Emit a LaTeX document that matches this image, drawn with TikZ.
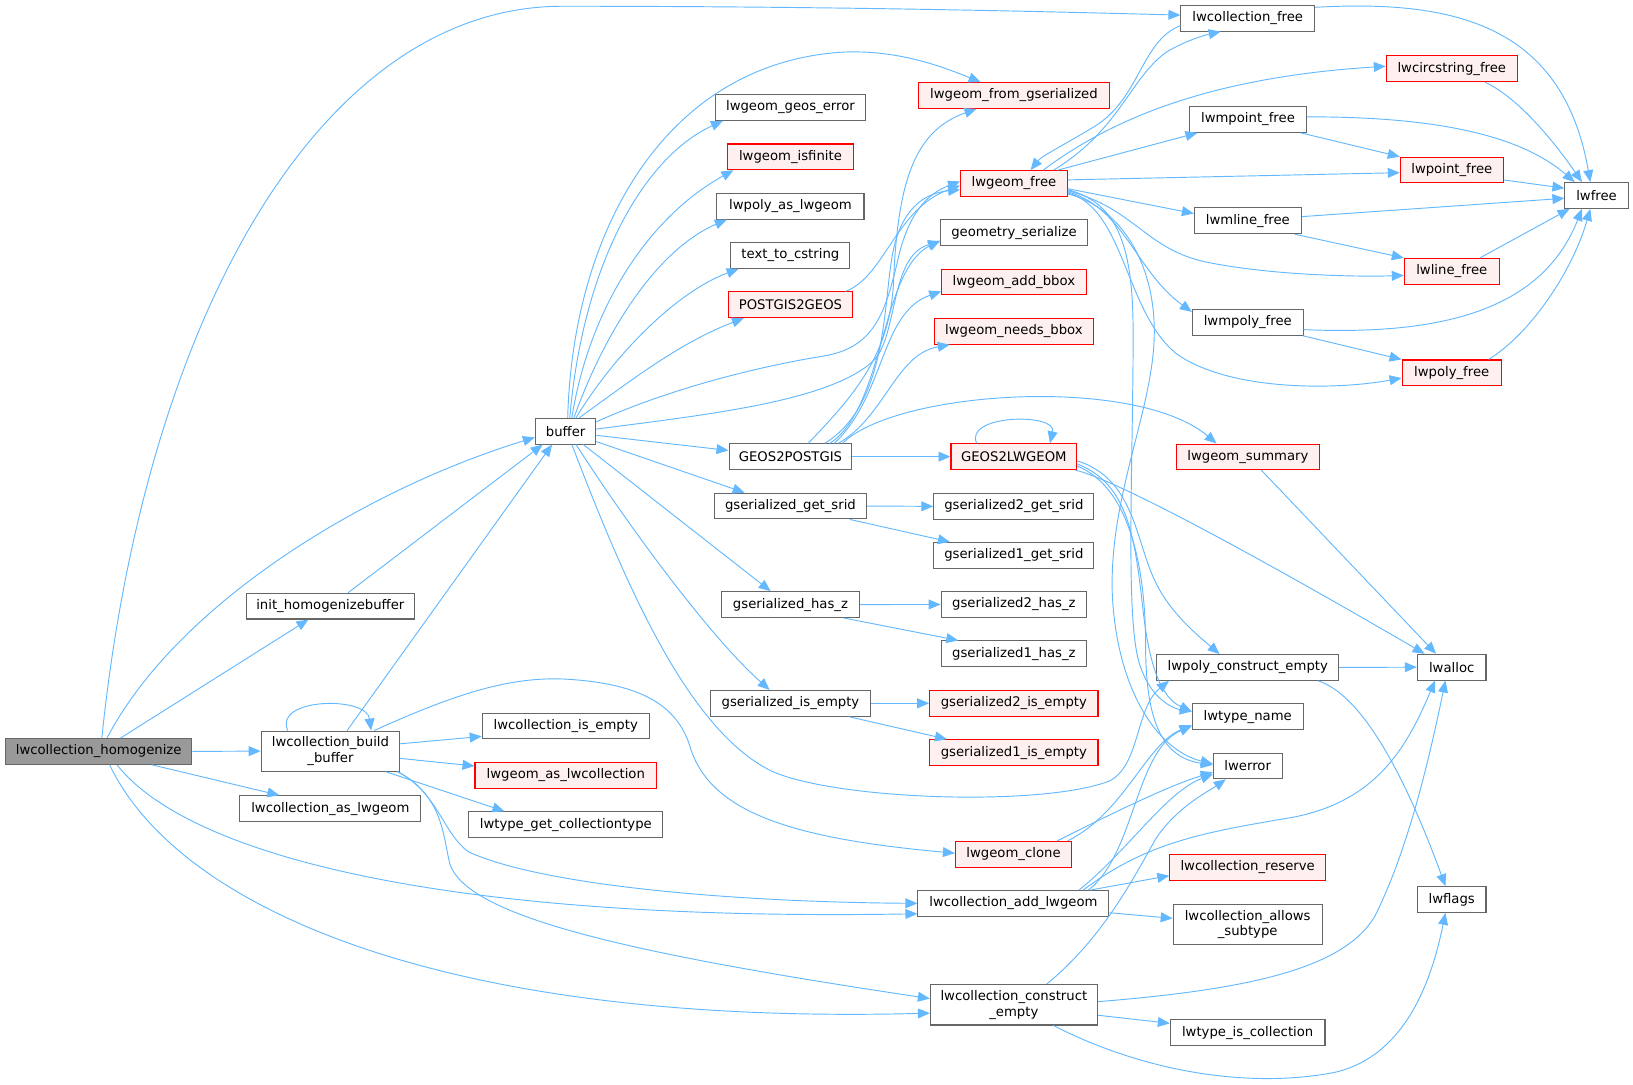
\documentclass[tikz,border=0pt]{standalone}
\usepackage{fontspec}
\setmainfont{DejaVu Sans}
\usetikzlibrary{arrows.meta,calc}
\definecolor{edgeblue}{HTML}{63B8FF}
\definecolor{bordergray}{HTML}{666666}
\definecolor{redfill}{HTML}{FFF0F0}
\definecolor{rootgray}{HTML}{999999}
\definecolor{redborder}{HTML}{FF0000}
\tikzset{
 fn/.style={draw=bordergray, fill=white, line width=1pt, minimum height=24.7pt, inner sep=0pt, font=\fontsize{12.7}{15}\selectfont, align=center},
 fnred/.style={fn, draw=redborder, fill=redfill},
 fnroot/.style={fn, fill=rootgray},
 calls/.style={draw=edgeblue, line width=0.9pt, -{Triangle[length=11.5pt,width=9.5pt]}},
}
\begin{document}
\begin{tikzpicture}[x=1pt,y=-1pt]
\useasboundingbox (0,0) rectangle (1568,1041);
% nodes
\node[fnroot, minimum width=179pt] (H) at (94.75,721.5) {lwcollection\_homogenize};
\node[fn, minimum width=58pt] (buffer) at (543.1,414) {buffer};
\node[fn, minimum width=161.2pt] (init) at (317.2,582) {init\_homogenizebuffer};
\node[fn, minimum width=133pt, minimum height=38.5pt] (B) at (317.3,721.2) {lwcollection\_build\\\_buffer};
\node[fn, minimum width=174pt] (asLW) at (317.2,776.4) {lwcollection\_as\_lwgeom};
\node[fn, minimum width=160.3pt] (isEmpty) at (543.2,697.1) {lwcollection\_is\_empty};
\node[fnred, minimum width=174.4pt] (asColl) at (543.3,744.5) {lwgeom\_as\_lwcollection};
\node[fn, minimum width=186pt] (getCT) at (543.3,791.8) {lwtype\_get\_collectiontype};
\node[fn, minimum width=128.4pt] (colFree) at (1198.1,17.5) {lwcollection\_free};
\node[fnred, minimum width=183.2pt] (fromGS) at (973.6,91.7) {lwgeom\_from\_gserialized};
\node[fn, minimum width=144.8pt] (geosErr) at (759,103.2) {lwgeom\_geos\_error};
\node[fnred, minimum width=120.5pt] (isfinite) at (759,150.6) {lwgeom\_isfinite};
\node[fn, minimum width=141.2pt] (polyAsLw) at (759,198) {lwpoly\_as\_lwgeom};
\node[fn, minimum width=114.3pt] (text2c) at (758.9,245.3) {text\_to\_cstring};
\node[fnred, minimum width=118.4pt] (P2G) at (759,292.6) {POSTGIS2GEOS};
\node[fnred, minimum width=102.4pt] (lwgFree) at (973.6,176.2) {lwgeom\_free};
\node[fn, minimum width=140.8pt] (geomSer) at (973.6,223.5) {geometry\_serialize};
\node[fnred, minimum width=138.6pt] (addBbox) at (973.5,270.8) {lwgeom\_add\_bbox};
\node[fnred, minimum width=152.3pt] (needsBbox) at (973.6,318.2) {lwgeom\_needs\_bbox};
\node[fn, minimum width=118pt] (G2P) at (759,438.5) {GEOS2POSTGIS};
\node[fnred, minimum width=120.7pt] (G2L) at (973.5,438.5) {GEOS2LWGEOM};
\node[fnred, minimum width=137.3pt] (summary) at (1198.2,438.7) {lwgeom\_summary};
\node[fn, minimum width=146.4pt] (getSrid) at (759,485.9) {gserialized\_get\_srid};
\node[fn, minimum width=153.8pt] (gs2srid) at (973.5,486.2) {gserialized2\_get\_srid};
\node[fn, minimum width=153.8pt] (gs1srid) at (973.5,533.2) {gserialized1\_get\_srid};
\node[fn, minimum width=132.2pt] (hasZ) at (759,580.5) {gserialized\_has\_z};
\node[fn, minimum width=139.8pt] (gs2hasz) at (973.5,580.4) {gserialized2\_has\_z};
\node[fn, minimum width=139.8pt] (gs1hasz) at (973.5,627.8) {gserialized1\_has\_z};
\node[fn, minimum width=154pt] (isEmptyGS) at (759,675.3) {gserialized\_is\_empty};
\node[fnred, minimum width=161.6pt] (gs2empty) at (973.5,675.3) {gserialized2\_is\_empty};
\node[fnred, minimum width=161.6pt] (gs1empty) at (973.5,722.6) {gserialized1\_is\_empty};
\node[fnred, minimum width=125.8pt] (circFree) at (1394,66.1) {lwcircstring\_free};
\node[fn, minimum width=112pt] (mpointFree) at (1198.3,114.7) {lwmpoint\_free};
\node[fnred, minimum width=98.9pt] (pointFree) at (1394,163.3) {lwpoint\_free};
\node[fn, minimum width=60.8pt] (lwfree) at (1533,187.7) {lwfree};
\node[fn, minimum width=102.7pt] (mlineFree) at (1198.2,212) {lwmline\_free};
\node[fnred, minimum width=91.2pt] (lineFree) at (1394,260.5) {lwline\_free};
\node[fn, minimum width=106.4pt] (mpolyFree) at (1198.1,309.5) {lwmpoly\_free};
\node[fnred, minimum width=95.3pt] (polyFree) at (1393.9,358) {lwpoly\_free};
\node[fn, minimum width=174.4pt] (polyCE) at (1198.1,640.9) {lwpoly\_construct\_empty};
\node[fn, minimum width=65.9pt] (lwalloc) at (1393.9,640.6) {lwalloc};
\node[fn, minimum width=106.6pt] (typeName) at (1198.1,688.2) {lwtype\_name};
\node[fn, minimum width=66pt] (lwerror) at (1198,735.5) {lwerror};
\node[fnred, minimum width=111.7pt] (clone) at (973.2,820.2) {lwgeom\_clone};
\node[fn, minimum width=183.4pt] (addLw) at (973.1,867.4) {lwcollection\_add\_lwgeom};
\node[fnred, minimum width=149.5pt] (reserve) at (1198,832.8) {lwcollection\_reserve};
\node[fn, minimum width=143pt, minimum height=38.4pt] (allows) at (1198,887.8) {lwcollection\_allows\\\_subtype};
\node[fn, minimum width=65.9pt] (lwflags) at (1393.9,863.7) {lwflags};
\node[fn, minimum width=160.3pt, minimum height=38.8pt] (colCE) at (973.5,964.8) {lwcollection\_construct\\\_empty};
\node[fn, minimum width=148.5pt] (isColl) at (1198,991.6) {lwtype\_is\_collection};

% edges from lwcollection_homogenize
\draw[calls] ($(H.north)+(3,0)$) .. controls (140,300) and (310,6) .. (540,6) .. controls (800,6) and (1000,11) .. ($(colFree.west)+(0,-3)$);
\draw[calls] ($(H.north)+(8,0)$) .. controls (170,580) and (350,470) .. ($(buffer.west)+(0,6)$);
\draw[calls] ($(H.north)+(21,0)$) -- ($(init.south)+(-21,0)$);
\draw[calls] (H.east) -- (B.west);
\draw[calls] ($(H.south)+(51,0)$) -- ($(asLW.north)+(-49,0)$);
\draw[calls] ($(H.south)+(17.5,0)$) .. controls (180,820) and (420,885) .. ($(addLw.west)+(0,10)$);
\draw[calls] ($(H.south)+(10.5,0)$) .. controls (170,870) and (420,985) .. ($(colCE.west)+(0,8)$);
% init, build_buffer
\draw[calls] ($(init.north)+(17,0)$) -- ($(buffer.south)+(-22,0)$);
\draw[calls] ($(B.north)+(16,0)$) -- ($(buffer.south)+(-13,0)$);
\draw[calls] ($(B.north)+(-41,0)$) .. controls (262,670) and (352,668) .. ($(B.north)+(39,0)$);
\draw[calls] ($(B.east)+(0,-7)$) -- ($(isEmpty.west)+(0,10)$);
\draw[calls] ($(B.east)+(0,7)$) -- ($(asColl.west)+(0,-9)$);
\draw[calls] ($(B.south)+(53,0)$) -- ($(getCT.north)+(-59,0)$);
\draw[calls] ($(B.north)+(42,0)$) .. controls (440,665) and (490,650) .. (541,652) .. controls (620,656) and (650,680) .. (662,715) .. controls (680,780) and (760,805) .. ($(clone.west)+(0,-1)$);
\draw[calls] ($(B.south)+(64,0)$) .. controls (420,760) and (425,800) .. (450,818) .. controls (520,850) and (700,866) .. (addLw.west);
\draw[calls] ($(B.south)+(65,0)$) .. controls (425,765) and (425,800) .. (432,830) .. controls (450,880) and (600,915) .. ($(colCE.west)+(0,-6)$);
% buffer
\draw[calls] ($(buffer.north)+(2,0)$) .. controls (550,220) and (640,60) .. (810,50) .. controls (860,48) and (900,62) .. ($(fromGS.north)+(-32,0)$);
\draw[calls] ($(buffer.north)+(4,0)$) .. controls (560,250) and (620,150) .. ($(geosErr.south west)+(8,0)$);
\draw[calls] ($(buffer.north)+(6,0)$) .. controls (565,300) and (620,210) .. ($(isfinite.south west)+(6,0)$);
\draw[calls] ($(buffer.north)+(8,0)$) .. controls (580,320) and (630,240) .. ($(polyAsLw.south west)+(10,0)$);
\draw[calls] ($(buffer.north)+(10,0)$) .. controls (590,340) and (650,280) .. ($(text2c.south west)+(8,0)$);
\draw[calls] ($(buffer.north)+(13,0)$) .. controls (600,370) and (650,330) .. ($(P2G.south west)+(15,0)$);
\draw[calls] ($(buffer.east)+(0,-9)$) .. controls (650,370) and (740,350) .. (790,342) .. controls (840,334) and (850,300) .. (862,250) .. controls (872,205) and (890,186) .. ($(lwgFree.west)+(0,-2)$);
\draw[calls] ($(buffer.east)+(0,-2)$) .. controls (680,398) and (800,385) .. (840,345) .. controls (862,320) and (855,245) .. ($(geomSer.west)+(0,8.5)$);
\draw[calls] ($(buffer.east)+(0,4)$) -- ($(G2P.west)+(0,-6)$);
\draw[calls] ($(buffer.east)+(0,10)$) -- ($(getSrid.north)+(-44,0)$);
\draw[calls] ($(buffer.south)+(17,0)$) -- ($(hasZ.north)+(-19,0)$);
\draw[calls] ($(buffer.south)+(10,0)$) .. controls (600,500) and (680,610) .. ($(isEmptyGS.north)+(-20,0)$);
\draw[calls] ($(buffer.south)+(6,0)$) .. controls (600,560) and (660,700) .. (740,740) .. controls (800,768) and (1000,775) .. (1065,750) .. controls (1095,735) and (1090,680) .. ($(polyCE.south west)+(12,0)$);
% POSTGIS2GEOS, GEOS2POSTGIS
\draw[calls] ($(P2G.north)+(53,0)$) .. controls (850,265) and (860,200) .. ($(lwgFree.west)+(0,2)$);
\draw[calls] ($(G2P.north)+(17,0)$) .. controls (820,380) and (855,340) .. (858,270) .. controls (862,170) and (880,125) .. ($(fromGS.south)+(-36,0)$);
\draw[calls] ($(G2P.north)+(33,0)$) .. controls (850,390) and (848,300) .. (856,250) .. controls (862,210) and (880,186) .. ($(lwgFree.west)+(0,6)$);
\draw[calls] ($(G2P.north)+(38,0)$) .. controls (850,390) and (845,260) .. ($(geomSer.west)+(0,7.5)$);
\draw[calls] ($(G2P.north)+(42,0)$) .. controls (850,380) and (845,300) .. ($(addBbox.west)+(0,9)$);
\draw[calls] ($(G2P.north)+(46,0)$) .. controls (850,400) and (860,340) .. ($(needsBbox.south west)+(15,0)$);
\draw[calls] ($(G2P.north)+(50,0)$) .. controls (860,375) and (1090,360) .. ($(summary.north)+(-30,0)$);
\draw[calls] (G2P.east) -- (G2L.west);
% GEOS2LWGEOM
\draw[calls] ($(G2L.north)+(-35.7,0)$) .. controls (925,398) and (1015,396) .. ($(G2L.north)+(34.7,0)$);
\draw[calls] ($(G2L.east)+(0,4)$) .. controls (1090,460) and (1090,520) .. (1110,560) .. controls (1125,590) and (1150,610) .. ($(polyCE.north)+(-27,0)$);
\draw[calls] ($(G2L.east)+(0,7)$) .. controls (1085,465) and (1090,520) .. (1098,590) .. controls (1104,640) and (1115,670) .. ($(typeName.west)+(0,-5)$);
\draw[calls] ($(G2L.east)+(0,9)$) .. controls (1090,470) and (1100,560) .. (1100,620) .. controls (1100,700) and (1120,728) .. ($(lwerror.west)+(0,-1)$);
\draw[calls] ($(G2L.south east)+(-2,0)$) .. controls (1070,460) and (1200,530) .. ($(lwalloc.north)+(-26,0)$);
\draw[calls] ($(summary.south)+(13,0)$) -- ($(lwalloc.north)+(-15,0)$);
% gserialized
\draw[calls] (getSrid.east) -- (gs2srid.west);
\draw[calls] ($(getSrid.south)+(57,0)$) -- ($(gs1srid.north west)+(16,0)$);
\draw[calls] (hasZ.east) -- (gs2hasz.west);
\draw[calls] ($(hasZ.south)+(51,0)$) -- ($(gs1hasz.north west)+(17,0)$);
\draw[calls] (isEmptyGS.east) -- (gs2empty.west);
\draw[calls] ($(isEmptyGS.south)+(56,0)$) -- ($(gs1empty.north west)+(17,0)$);
% lwgeom_free
\draw[calls] ($(lwgFree.north)+(38,0)$) .. controls (1075,125) and (1085,75) .. (1120,50) .. controls (1140,38) and (1160,33) .. ($(colFree.south)+(-26,0)$);
\draw[calls] ($(colFree.west)+(0,7)$) .. controls (1095,40) and (1095,95) .. (1050,122) .. controls (1020,140) and (1000,150) .. ($(lwgFree.north)+(16,0)$);
\draw[calls] ($(lwgFree.north)+(28,0)$) .. controls (1060,120) and (1150,75) .. ($(circFree.west)+(0,-2.5)$);
\draw[calls] ($(lwgFree.north)+(42,0)$) -- ($(mpointFree.south west)+(8,0)$);
\draw[calls] ($(lwgFree.east)+(0,-3.5)$) -- ($(pointFree.west)+(0,2.5)$);
\draw[calls] ($(lwgFree.east)+(0,5)$) -- ($(mlineFree.west)+(0,-7)$);
\draw[calls] ($(lwgFree.east)+(0,7)$) .. controls (1090,200) and (1100,240) .. (1160,252) .. controls (1220,264) and (1300,266) .. ($(lineFree.west)+(0,4)$);
\draw[calls] ($(lwgFree.east)+(0,8)$) .. controls (1080,200) and (1090,260) .. ($(mpolyFree.west)+(0,-10)$);
\draw[calls] ($(lwgFree.east)+(0,9)$) .. controls (1080,200) and (1080,300) .. (1130,340) .. controls (1180,375) and (1280,375) .. ($(polyFree.west)+(0,5)$);
\draw[calls] ($(lwgFree.east)+(0,10)$) .. controls (1080,200) and (1112,260) .. (1108,330) .. controls (1104,400) and (1065,480) .. (1068,570) .. controls (1072,660) and (1110,720) .. ($(lwerror.west)+(0,-2)$);
\draw[calls] ($(lwgFree.east)+(0,6)$) .. controls (1075,195) and (1088,240) .. (1088,320) .. controls (1088,450) and (1080,600) .. (1095,640) .. controls (1105,670) and (1125,680) .. ($(typeName.west)+(0,-5)$);
% free functions to lwfree
\draw[calls] ($(mpointFree.east)+(0,-2.5)$) .. controls (1380,112) and (1460,130) .. ($(lwfree.north)+(-21,0)$);
\draw[calls] ($(circFree.south)+(32,0)$) .. controls (1460,95) and (1495,140) .. ($(lwfree.north)+(-14,0)$);
\draw[calls] ($(colFree.east)+(0,-10.5)$) .. controls (1390,0) and (1500,20) .. ($(lwfree.north)+(-6,0)$);
\draw[calls] ($(pointFree.east)+(0,9.5)$) -- ($(lwfree.west)+(0,-7)$);
\draw[calls] ($(mlineFree.east)+(0,-4)$) -- ($(lwfree.west)+(0,2.7)$);
\draw[calls] ($(lineFree.north)+(27,0)$) -- ($(lwfree.south west)+(5,0)$);
\draw[calls] ($(mpolyFree.east)+(0,7)$) .. controls (1380,322) and (1480,300) .. ($(lwfree.south)+(-14,0)$);
\draw[calls] ($(polyFree.north)+(35.5,0)$) .. controls (1470,320) and (1510,260) .. ($(lwfree.south)+(-6,0)$);
\draw[calls] ($(mpointFree.south east)+(-6,0)$) -- (pointFree.north west);
\draw[calls] ($(mlineFree.south east)+(-7,0)$) -- (lineFree.north west);
\draw[calls] ($(mpolyFree.south east)+(-1,0)$) -- (polyFree.north west);
% lower right
\draw[calls] (polyCE.east) -- (lwalloc.west);
\draw[calls] ($(polyCE.south east)+(-20,0)$) .. controls (1300,665) and (1340,720) .. ($(lwflags.north)+(-6,0)$);
\draw[calls] ($(clone.north)+(52,0)$) .. controls (1080,780) and (1100,715) .. ($(typeName.west)+(0,8)$);
\draw[calls] ($(clone.north)+(42,0)$) .. controls (1060,785) and (1120,755) .. ($(lwerror.west)+(0,6)$);
\draw[calls] ($(addLw.north)+(72,0)$) .. controls (1090,820) and (1090,720) .. ($(typeName.west)+(0,9)$);
\draw[calls] ($(addLw.north)+(63,0)$) .. controls (1080,820) and (1120,760) .. ($(lwerror.west)+(0,8)$);
\draw[calls] ($(addLw.north)+(67,0)$) .. controls (1100,810) and (1150,800) .. (1240,785) .. controls (1320,770) and (1350,720) .. ($(lwalloc.south)+(-16,0)$);
\draw[calls] ($(addLw.north east)+(-18,0)$) -- ($(reserve.west)+(0,8)$);
\draw[calls] ($(addLw.east)+(0,9)$) -- ($(allows.west)+(0,-6)$);
\draw[calls] ($(colCE.north)+(31.5,0)$) .. controls (1060,900) and (1090,840) .. (1110,805) .. controls (1130,775) and (1160,760) .. ($(lwerror.south)+(-21,0)$);
\draw[calls] ($(colCE.east)+(0,-3)$) .. controls (1200,950) and (1290,930) .. (1320,880) .. controls (1350,820) and (1370,740) .. ($(lwalloc.south)+(-6,0)$);
\draw[calls] ($(colCE.east)+(0,10)$) -- ($(isColl.west)+(0,-9)$);
\draw[calls] ($(colCE.south)+(38,0)$) .. controls (1100,1030) and (1200,1045) .. (1280,1030) .. controls (1350,1015) and (1375,940) .. ($(lwflags.south)+(-6,0)$);
\end{tikzpicture}
\end{document}
